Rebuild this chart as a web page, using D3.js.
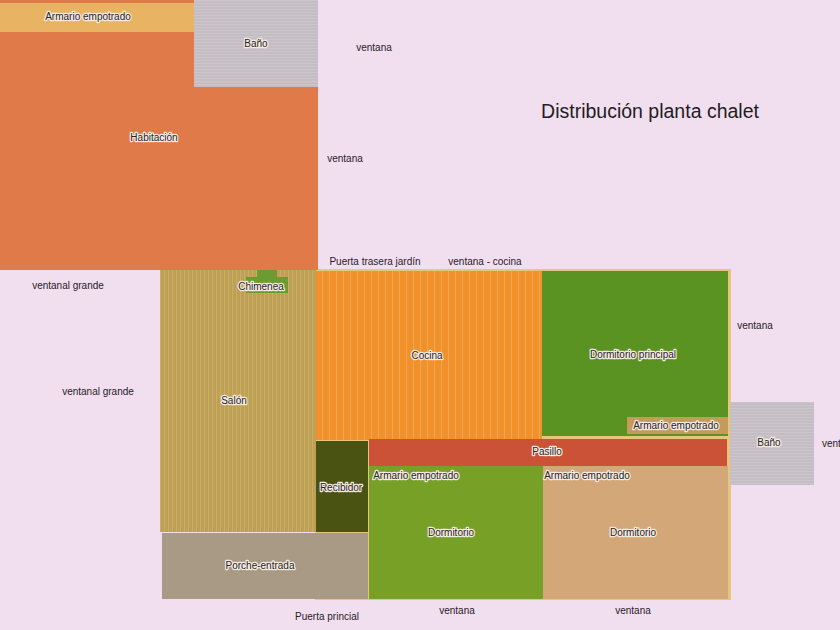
<html>
<head>
<script src="https://d3js.org/d3.v7.min.js"></script>
<style>
body { margin: 0; background: #f1dff0; }
svg { display: block; }
</style>
</head>
<body>
<div id="plan"></div>
<script>

var width = 840;
var height = 630;

// plan units are decimetres
var rooms = ["Habitación", "Armario empotrado", "Baño", "Salón", "Cocina", "Dormitorio principal",
	"Armario empotrado", "Pasillo", "Recibidor", "Baño", "Armario empotrado", "Dormitorio",
	"Armario empotrado", "Dormitorio", "Porche-entrada"];
var roomKind = ["habitacion", "armarioA", "bano", "salon", "cocina", "dormP",
	"armarioB", "pasillo", "recibidor", "bano", "armarioC", "dormV",
	"armarioD", "dormT", "porche"];
var roomX0 = [0, 0, 19.4, 16.0, 31.6, 54.2, 62.7, 36.9, 31.6, 73.0, 36.9, 36.9, 54.3, 54.3, 16.2];
var roomY0 = [0, 0.3, 0, 27.0, 27.1, 27.1, 41.7, 43.9, 44.1, 40.2, 46.6, 46.6, 46.6, 46.6, 53.3];
var roomX1 = [31.8, 19.4, 31.8, 31.6, 54.2, 72.8, 72.8, 72.7, 36.8, 81.4, 46.2, 54.3, 63.6, 72.8, 36.8];
var roomY1 = [27.0, 3.2, 8.7, 53.2, 44.0, 43.6, 43.4, 46.6, 53.2, 48.5, 48.3, 59.9, 48.3, 59.9, 59.9];
var labelX = [15.4, 8.8, 25.6, 23.4, 42.7, 63.3, 67.6, 54.7, 34.1, 76.9, 41.6, 45.1, 58.7, 63.3, 26.0];
var labelY = [13.7, 1.6, 4.3, 40.0, 35.5, 35.4, 42.5, 45.1, 48.7, 44.2, 47.5, 53.2, 47.5, 53.2, 56.5];

// fireplace on the back wall of the lounge
var chimX0 = [25.7, 24.6];
var chimX1 = [27.7, 28.8];
var chimY0 = [27.0, 27.7];
var chimY1 = [27.9, 29.3];

var notes = ["ventana", "ventana", "Puerta trasera jardín", "ventana - cocina", "ventanal grande",
	"ventanal grande", "ventana", "ventana", "Puerta princial", "ventana", "ventana"];
var noteX = [37.4, 34.5, 37.5, 48.5, 6.8, 9.8, 75.5, 82.2, 32.7, 45.7, 63.3];
var noteY = [4.7, 15.8, 26.1, 26.1, 28.5, 39.1, 32.5, 44.3, 61.6, 61.0, 61.0];
var noteAnchor = ["middle", "middle", "middle", "middle", "middle", "middle", "middle", "start", "middle", "middle", "middle"];

var title = "Distribución planta chalet";

var x = d3.scaleLinear().domain([0, 84]).range([0, width]);
var y = d3.scaleLinear().domain([0, 63]).range([0, height]);

var color = d3.scaleOrdinal()
	.domain(["habitacion", "armarioA", "bano", "salon", "cocina", "dormP", "armarioB", "pasillo",
		"recibidor", "armarioC", "dormV", "armarioD", "dormT", "porche"])
	.range(["#e07b49", "#e8b463", "url(#banoTex)", "url(#salonTex)", "url(#cocinaTex)", "#5b9322",
		"#c59b5b", "#cb5236", "#4b5313", "#e7b275", "#77a126", "#e18a5b", "#d3a777", "#a99a85"]);

var svg = d3.select("#plan").append("svg").attr("width", width).attr("height", height);

svg.append("rect").attr("width", width).attr("height", height).style("fill", "#f1dff0");

var defs = svg.append("defs");

function stripes(id, base, line, w, h, vertical) {
	var p = defs.append("pattern").attr("id", id)
		.attr("patternUnits", "userSpaceOnUse")
		.attr("width", w).attr("height", h);
	p.append("rect").attr("width", w).attr("height", h).style("fill", base);
	if (vertical) p.append("rect").attr("width", 1).attr("height", h).style("fill", line);
	else p.append("rect").attr("width", w).attr("height", 1).style("fill", line);
}
stripes("salonTex", "#bea155", "#c9ad66", 4, 10, true);
stripes("cocinaTex", "#f0912b", "#f5a54c", 7, 10, true);
stripes("banoTex", "#c4bec4", "#ccc6cc", 10, 3, false);

var idx = d3.range(rooms.length);

// thin light outline around the ground floor block
svg.append("rect")
	.attr("x", x(31.5)).attr("y", y(26.9))
	.attr("width", x(73.1) - x(31.5)).attr("height", y(60.0) - y(26.9))
	.style("fill", "#e6c57c");

svg.selectAll(".room").data(idx)
	.enter().append("rect")
	.attr("class", "room")
	.attr("x", function(i) { return x(roomX0[i]); })
	.attr("y", function(i) { return y(roomY0[i]); })
	.attr("width", function(i) { return x(roomX1[i]) - x(roomX0[i]); })
	.attr("height", function(i) { return y(roomY1[i]) - y(roomY0[i]); })
	.style("fill", function(i) { return color(roomKind[i]); });

// strip of the bedroom colour along the very top edge
svg.append("rect")
	.attr("x", x(0)).attr("y", y(0))
	.attr("width", x(19.4) - x(0)).attr("height", y(0.3) - y(0))
	.style("fill", "#e07b49");

svg.selectAll(".chim").data(d3.range(chimX0.length))
	.enter().append("rect")
	.attr("class", "chim")
	.attr("x", function(i) { return x(chimX0[i]); })
	.attr("y", function(i) { return y(chimY0[i]); })
	.attr("width", function(i) { return x(chimX1[i]) - x(chimX0[i]); })
	.attr("height", function(i) { return y(chimY1[i]) - y(chimY0[i]); })
	.style("fill", "#6b9b31");

svg.selectAll(".label").data(idx.concat([-1]))
	.enter().append("text")
	.attr("class", "label")
	.attr("x", function(i) { return i < 0 ? x(26.1) : x(labelX[i]); })
	.attr("y", function(i) { return i < 0 ? y(28.6) : y(labelY[i]); })
	.attr("dy", "0.35em")
	.attr("text-anchor", "middle")
	.style("font-family", "'Liberation Sans', Arial, sans-serif")
	.style("font-size", "10px")
	.style("fill", "#2a2222")
	.style("stroke", "#f4ece4")
	.style("stroke-width", 2.4)
	.style("stroke-linejoin", "round")
	.style("paint-order", "stroke")
	.text(function(i) { return i < 0 ? "Chimenea" : rooms[i]; });

svg.selectAll(".note").data(d3.range(notes.length))
	.enter().append("text")
	.attr("class", "note")
	.attr("x", function(i) { return x(noteX[i]); })
	.attr("y", function(i) { return y(noteY[i]); })
	.attr("dy", "0.35em")
	.attr("text-anchor", function(i) { return noteAnchor[i]; })
	.style("font-family", "'Liberation Sans', Arial, sans-serif")
	.style("font-size", "10px")
	.style("fill", "#2a2026")
	.text(function(i) { return notes[i]; });

svg.append("text")
	.attr("x", x(65.0)).attr("y", y(11.8))
	.attr("text-anchor", "middle")
	.style("font-family", "'Liberation Sans', Arial, sans-serif")
	.style("font-size", "19.5px")
	.style("fill", "#231c22")
	.text(title);

</script>
</body>
</html>
